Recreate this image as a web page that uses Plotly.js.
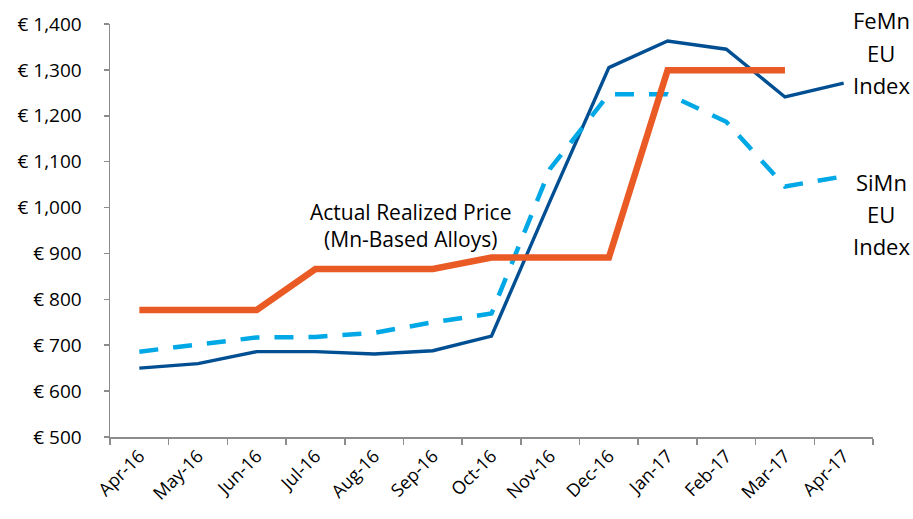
<!DOCTYPE html>
<html>
<head>
<meta charset="utf-8">
<script src="https://cdn.plot.ly/plotly-3.0.1.min.js"></script>
<style>html,body{margin:0;padding:0;background:#fff;}#chart{width:913px;height:519px;}</style>
</head>
<body>
<div id="chart"></div>
<script>
const months = ["Apr-16","May-16","Jun-16","Jul-16","Aug-16","Sep-16","Oct-16","Nov-16","Dec-16","Jan-17","Feb-17","Mar-17","Apr-17"];
const femnIndex = [650, 660, 686, 686, 681, 688, 720, 1015, 1305, 1363, 1345, 1241, 1271];
const simnIndex = [686, 702, 717, 718, 727, 750, 769, 1085, 1247, 1247, 1187, 1046, 1068];
const actualPrice = [777, 777, 777, 866, 866, 866, 891, 891, 891, 1299, 1299, 1299, null];

const font = "'Open Sans', 'Noto Sans', sans-serif";

const traces = [
  {x: months, y: femnIndex, type: 'scatter', mode: 'lines', name: 'FeMn EU Index',
   line: {color: '#004f93', width: 3.4}},
  {x: months, y: simnIndex, type: 'scatter', mode: 'lines', name: 'SiMn EU Index',
   line: {color: '#00a8e6', width: 4.5, dash: '19px,15px'}},
  {x: months, y: actualPrice, type: 'scatter', mode: 'lines', name: 'Actual Realized Price',
   line: {color: '#ea5a24', width: 6.5}, connectgaps: false}
];

// plot area: y pixel 24 (top) to 437 (bottom)
function py(px) { return (437 - px) / 413; }
function px(xp) { return (xp - 110) / 763; }

const sideFont = {size: 22, family: font, color: '#000'};
const sideLabels = [
  ['FeMn', 20], ['EU', 53], ['Index', 85],
  ['SiMn', 182], ['EU', 214], ['Index', 246]
];

const annotations = sideLabels.map(([t, y]) => ({
  xref: 'paper', yref: 'paper', x: px(881), y: py(y), text: t,
  showarrow: false, font: sideFont, xanchor: 'center', yanchor: 'middle'
}));
annotations.push({
  xref: 'paper', yref: 'paper', x: px(410), y: py(225),
  text: 'Actual Realized Price<br>(Mn-Based Alloys)',
  showarrow: false, font: {size: 21, family: font, color: '#000'},
  align: 'center', xanchor: 'center', yanchor: 'middle'
});

const layout = {
  width: 913, height: 519,
  margin: {l: 110, r: 40, t: 24, b: 82},
  paper_bgcolor: '#fff', plot_bgcolor: '#fff',
  showlegend: false,
  font: {family: font, color: '#000'},
  xaxis: {
    type: 'category', tickson: 'boundaries', range: [-0.5, 12.5],
    showline: true, linecolor: '#8c8c8c', linewidth: 1.5,
    ticks: 'outside', ticklen: 6, tickcolor: '#8c8c8c', tickwidth: 1.5,
    showgrid: false, zeroline: false,
    tickangle: -45, tickfont: {size: 18, family: font, color: '#000'}
  },
  yaxis: {
    range: [500, 1400], dtick: 100, tick0: 500,
    tickprefix: '€ ', tickformat: ',d',
    showline: true, linecolor: '#8c8c8c', linewidth: 1.5,
    ticks: 'outside', ticklen: 5, tickcolor: '#8c8c8c', tickwidth: 1.5,
    ticklabelstandoff: 18,
    showgrid: false, zeroline: false,
    tickfont: {size: 19, family: font, color: '#000'}
  },
  annotations: annotations
};

Plotly.newPlot('chart', traces, layout, {displayModeBar: false, staticPlot: true});
</script>
</body>
</html>
